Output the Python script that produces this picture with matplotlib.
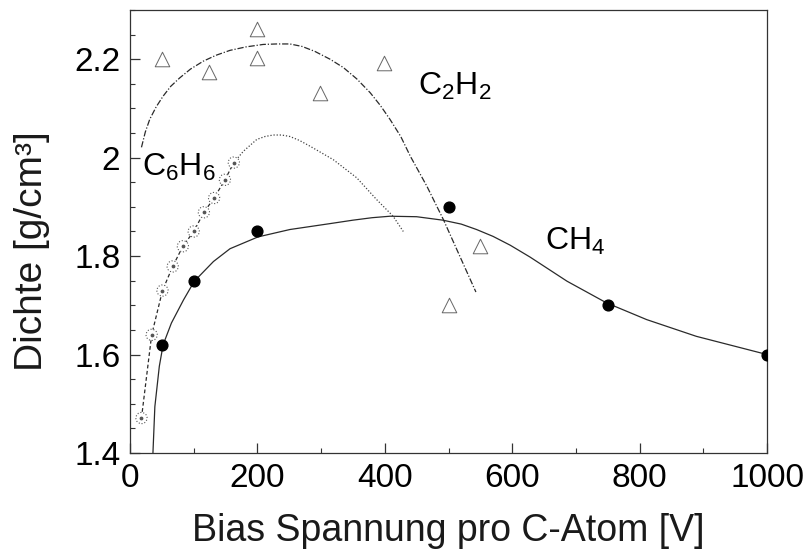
import matplotlib
matplotlib.use("Agg")
import matplotlib.pyplot as plt
import matplotlib.transforms as mtransforms
from matplotlib.ticker import MultipleLocator

plt.rcParams['font.family'] = ['Liberation Sans', 'DejaVu Sans']
plt.rcParams['mathtext.fontset'] = 'custom'
plt.rcParams['mathtext.rm'] = 'Liberation Sans'
plt.rcParams['mathtext.it'] = 'Liberation Sans:italic'

# Messpunkte
ch4_x = [50, 100, 200, 500, 750, 1000]
ch4_y = [1.62, 1.75, 1.85, 1.90, 1.70, 1.60]

c2h2_x = [50, 124, 200, 200, 298, 399, 500, 549]
c2h2_y = [2.20, 2.174, 2.262, 2.203, 2.132, 2.193, 1.70, 1.821]

c6h6_x = [18, 34, 51, 67, 83, 100, 116, 132, 149, 163]
c6h6_y = [1.471, 1.640, 1.730, 1.779, 1.820, 1.850, 1.889, 1.918, 1.955, 1.990]

# Ausgleichskurven
ch4_fit_x = [36, 39, 46, 52, 65, 84, 101, 131, 157, 201, 251, 314, 350, 380,
             408, 450, 491, 520, 544, 570, 597, 628, 686, 748, 811, 889, 1000]
ch4_fit_y = [1.40, 1.494, 1.576, 1.62, 1.664, 1.711, 1.749, 1.789, 1.815,
             1.839, 1.854, 1.866, 1.873, 1.878, 1.881, 1.880, 1.873, 1.865,
             1.854, 1.840, 1.822, 1.798, 1.749, 1.705, 1.671, 1.637, 1.60]

c2h2_fit_x = [18, 24, 31, 41, 52, 64, 78, 95, 115, 135, 157, 182, 209, 230,
              251, 270, 290, 314, 335, 356, 377, 393, 408, 425, 440, 466, 492,
              518, 543]
c2h2_fit_y = [2.021, 2.052, 2.078, 2.103, 2.125, 2.145, 2.162, 2.180, 2.196,
              2.208, 2.218, 2.225, 2.230, 2.231, 2.231, 2.226, 2.216, 2.200,
              2.183, 2.160, 2.132, 2.106, 2.078, 2.043, 2.003, 1.942, 1.874,
              1.799, 1.727]

c6h6_fit_x = [163, 178, 199, 212, 225, 238, 251, 266, 283, 319, 356, 387,
              413, 429]
c6h6_fit_y = [1.990, 2.013, 2.037, 2.043, 2.046, 2.046, 2.043, 2.035, 2.023,
              1.996, 1.959, 1.915, 1.881, 1.850]

line_col = '#2a2a2a'

fig = plt.figure(figsize=(8.08, 5.49), dpi=100)
ax = fig.add_axes([0.1609, 0.1749, 0.7884, 0.8069])

ax.plot(ch4_fit_x, ch4_fit_y, color=line_col, lw=0.9)
ax.plot(c2h2_fit_x, c2h2_fit_y, color=line_col, lw=0.9,
        linestyle=(0, (5, 1.5, 1, 1.5)))
ax.plot(c6h6_x, c6h6_y, color=line_col, lw=0.9, linestyle=(0, (3, 2)))
ax.plot(c6h6_fit_x, c6h6_fit_y, color='#444444', lw=0.9,
        linestyle=(0, (1, 1.5)))

ax.scatter(ch4_x, ch4_y, s=60, color='black', zorder=5)
ax.scatter(c2h2_x, c2h2_y, marker='^', s=110, facecolor='white',
           edgecolor='#666666', linewidths=0.7, zorder=5)
ax.scatter(c6h6_x, c6h6_y, marker='o', s=65, facecolor='white',
           edgecolor='#555555', linewidths=0.8, linestyles='dotted', zorder=5)
ax.scatter(c6h6_x, c6h6_y, marker='o', s=3, color='#555555', zorder=6)

ax.text(19, 1.962, r'$\mathrm{C_6H_6}$', fontsize=23, va='baseline')
ax.text(452, 2.128, r'$\mathrm{C_2H_2}$', fontsize=23, va='baseline')
ax.text(651, 1.813, r'$\mathrm{CH_4}$', fontsize=23, va='baseline')

ax.set_xlim(0, 1000)
ax.set_ylim(1.4, 2.3)
ax.xaxis.set_major_locator(MultipleLocator(200))
ax.xaxis.set_minor_locator(MultipleLocator(100))
ax.yaxis.set_major_locator(MultipleLocator(0.2))
ax.yaxis.set_minor_locator(MultipleLocator(0.05))
ax.yaxis.set_major_formatter(plt.FuncFormatter(lambda v, p: f'{v:g}'))

ax.tick_params(which='both', direction='in', top=False, right=False,
               color='#333333', labelsize=24)
ax.tick_params(which='major', length=7, width=0.9, pad=7)
ax.tick_params(which='minor', length=3.5, width=0.8)
for sp in ax.spines.values():
    sp.set_color('#333333')
    sp.set_linewidth(0.9)

# 1.4 etwas tiefer setzen, damit es nicht mit der 0 kollidiert
lbl = ax.get_yticklabels()[0]
lbl.set_transform(lbl.get_transform() +
                  mtransforms.ScaledTranslation(0, -9 / 100, fig.dpi_scale_trans))

ax.set_xlabel('Bias Spannung pro C-Atom [V]', fontsize=27, color='#1a1a1a')
ax.set_ylabel('Dichte [g/cm³]', fontsize=28, color='#1a1a1a')
ax.xaxis.set_label_coords(0.5, -0.135)
ax.yaxis.set_label_coords(-0.125, 0.456)

fig.savefig('out.png', dpi=100)
